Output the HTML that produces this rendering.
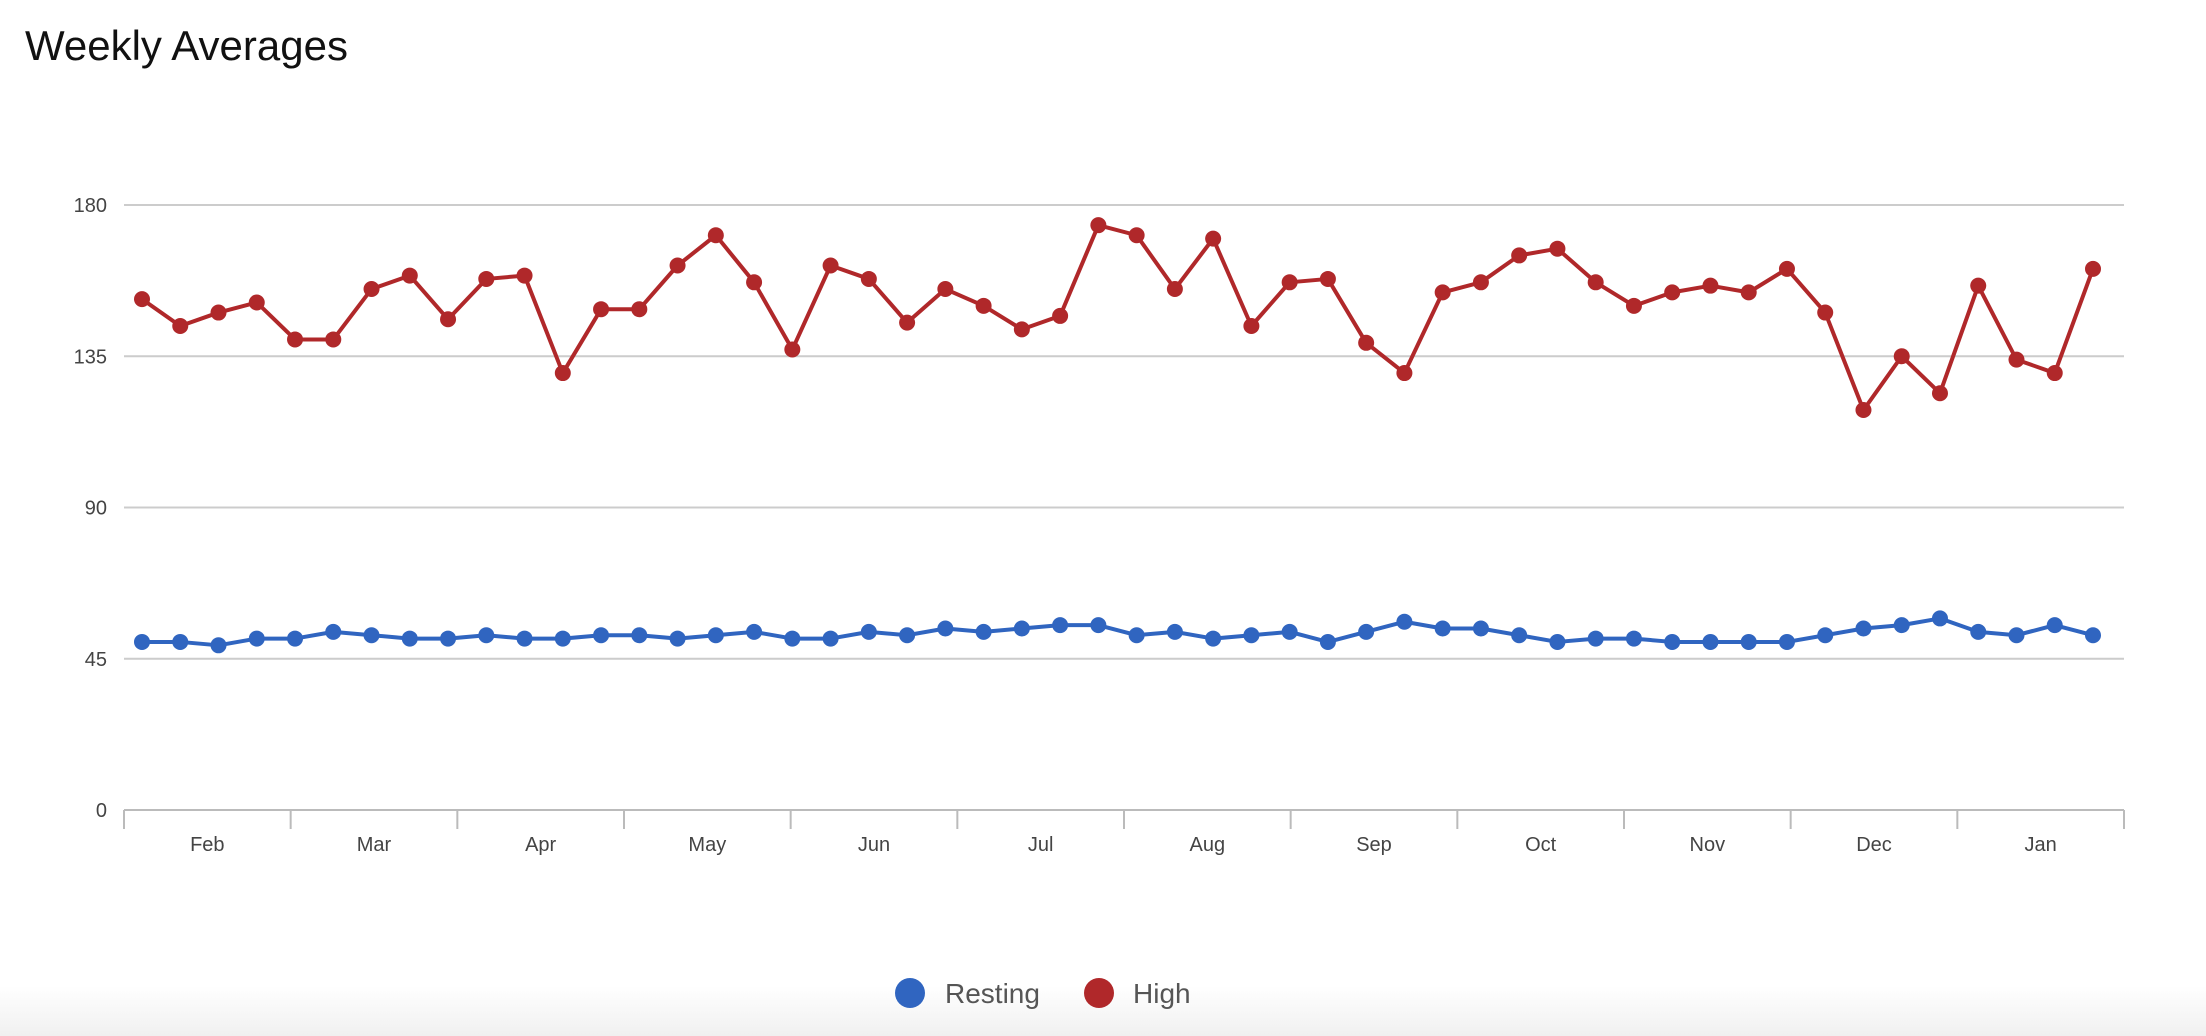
<!DOCTYPE html>
<html><head><meta charset="utf-8"><style>
html,body{margin:0;padding:0;background:#fff;}
body{width:2206px;height:1036px;overflow:hidden;position:relative;font-family:"Liberation Sans",sans-serif;}
#title{position:absolute;left:25px;top:22px;font-size:42px;color:#111;}
#fade{position:absolute;left:0;bottom:0;width:2206px;height:50px;background:linear-gradient(#fff,#f0f0f0);}
</style></head><body>
<div id="title">Weekly Averages</div>
<div id="fade"></div>
<svg id="chart" width="2206" height="1036" style="position:absolute;left:0;top:0"></svg>
<script>
const months=["Feb","Mar","Apr","May","Jun","Jul","Aug","Sep","Oct","Nov","Dec","Jan"];
const yTicks=[0,45,90,135,180];
const high=[152,144,148,151,140,140,155,159,146,158,159,130,149,149,162,171,157,137,162,158,145,155,150,143,147,174,171,155,170,144,157,158,139,130,154,157,165,167,157,150,154,156,154,161,148,119,135,124,156,134,130,161];
const resting=[50,50,49,51,51,53,52,51,51,52,51,51,52,52,51,52,53,51,51,53,52,54,53,54,55,55,52,53,51,52,53,50,53,56,54,54,52,50,51,51,50,50,50,50,52,54,55,57,53,52,55,52];
const svg=document.getElementById('chart');
const NS='http://www.w3.org/2000/svg';
const L=124,R=2124,T=205,B=810,X0=142,X1=2093;
const y=v=>B-(v/180)*(B-T);
const x=i=>X0+i*(X1-X0)/(high.length-1);
function mk(tag,attrs){const e=document.createElementNS(NS,tag);for(const k in attrs)e.setAttribute(k,attrs[k]);svg.appendChild(e);return e;}
yTicks.forEach(t=>{
  const g=mk('line',{x1:L,x2:R,y1:y(t),y2:y(t),stroke:t===0?'#bbb':'#ccc','stroke-width':2});
  
  
  const tx=mk('text',{x:107,y:y(t)+7,'text-anchor':'end','font-size':20,fill:'#444','font-family':'Liberation Sans, sans-serif'});
  tx.textContent=t;
  
  
});
const mw=(R-L)/months.length;
for(let i=0;i<=months.length;i++){
  const tk=mk('line',{x1:L+i*mw,x2:L+i*mw,y1:B,y2:829,stroke:'#bbb','stroke-width':2});
  
  
}
months.forEach((m,i)=>{
  const tx=mk('text',{x:L+(i+0.5)*mw,y:851,'text-anchor':'middle','font-size':20,fill:'#444','font-family':'Liberation Sans, sans-serif'});
  tx.textContent=m;
  
  
});
function series(data,color,name){
  const p=mk('polyline',{points:data.map((v,i)=>x(i)+','+y(v)).join(' '),fill:'none',stroke:color,'stroke-width':4,'stroke-linejoin':'round'});
  
  
  data.forEach((v,i)=>{
    const c=mk('circle',{cx:x(i),cy:y(v),r:8,fill:color});
    
    
  });
}
series(resting,'#3065c0','resting');
series(high,'#b0282a','high');
[[910,'#3065c0','Resting',945],[1099,'#b0282a','High',1133]].forEach(([cx,col,lab,tx])=>{
  const c=mk('circle',{cx:cx,cy:993,r:15,fill:col});
  
  
  const t=mk('text',{x:tx,y:1003,'font-size':28,fill:'#555','font-family':'Liberation Sans, sans-serif'});
  t.textContent=lab;
  
  
});
</script>
</body></html>
